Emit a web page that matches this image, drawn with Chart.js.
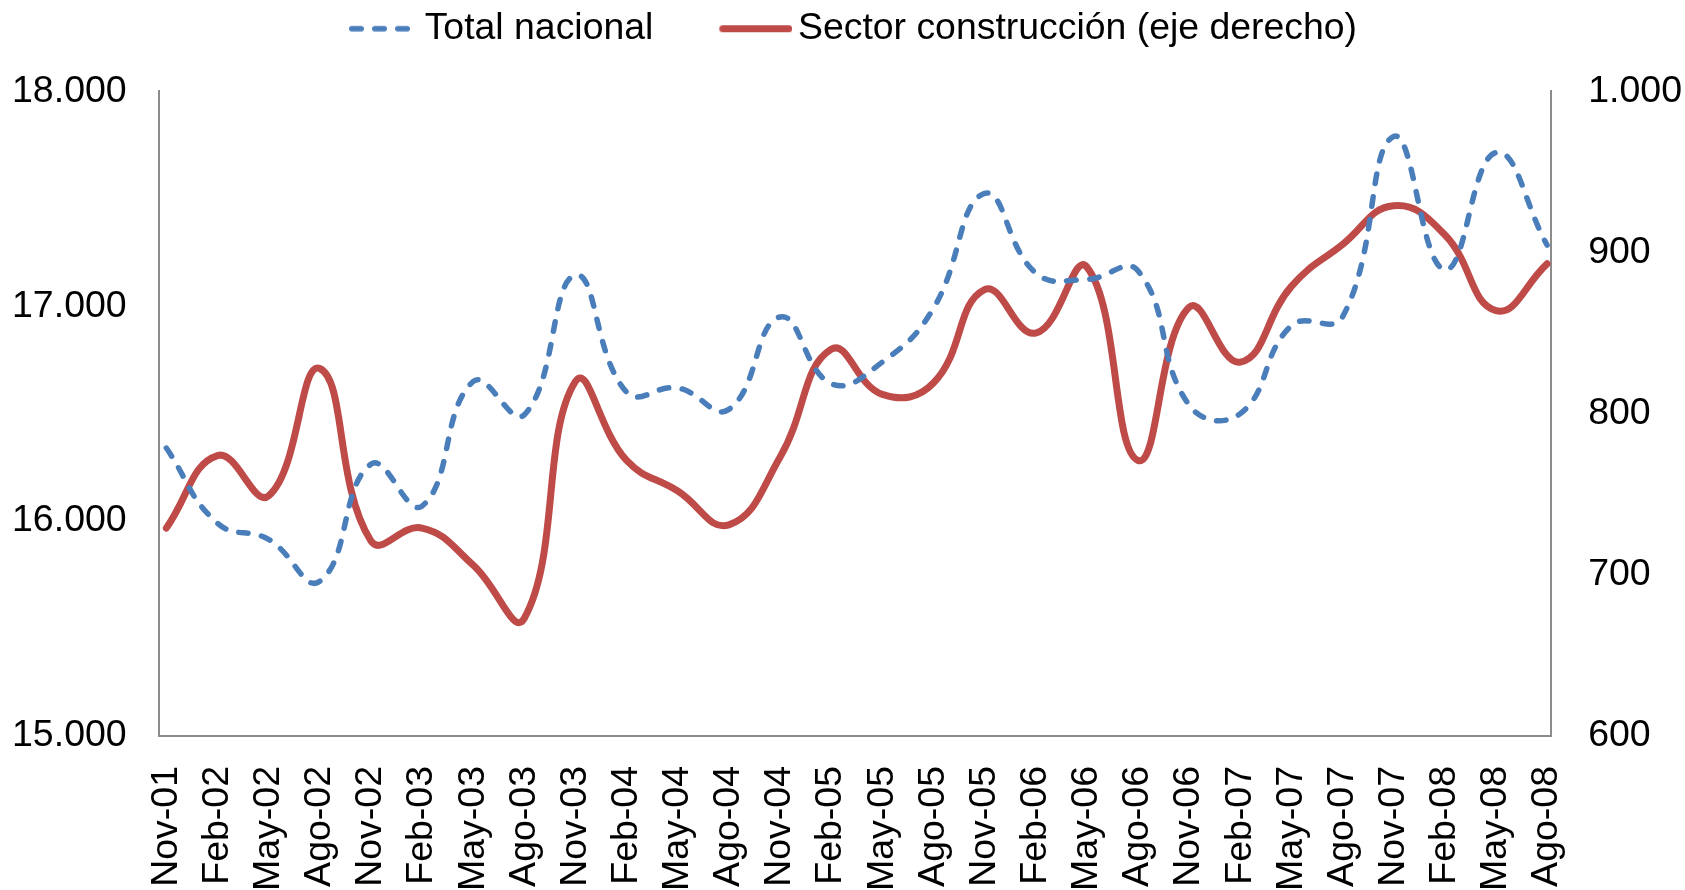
<!DOCTYPE html>
<html>
<head>
<meta charset="utf-8">
<script src="https://cdn.jsdelivr.net/npm/chart.js@4/dist/chart.umd.min.js"></script>
<style>
  html, body { margin: 0; padding: 0; background: #fff; }
  canvas { display: block; }
</style>
</head>
<body>
<canvas id="myChart" width="1685" height="890"></canvas>
<script>
// quarterly labels
const labels = ['Nov-01', 'Feb-02', 'May-02', 'Ago-02', 'Nov-02', 'Feb-03', 'May-03', 'Ago-03',
  'Nov-03', 'Feb-04', 'May-04', 'Ago-04', 'Nov-04', 'Feb-05', 'May-05', 'Ago-05',
  'Nov-05', 'Feb-06', 'May-06', 'Ago-06', 'Nov-06', 'Feb-07', 'May-07', 'Ago-07',
  'Nov-07', 'Feb-08', 'May-08', 'Ago-08']

// left axis
const totalNacional = [16340, 15990, 15915, 15720, 16265, 16070, 16650, 16495,
  17145, 16600, 16620, 16520, 16950, 16640, 16740, 16990,
  17525, 17155, 17125, 17165, 16540, 16500, 16910, 16950,
  17790, 17170, 17715, 17285]

// right axis
const sectorConstruccion = [729, 774, 749, 828, 721, 729, 706, 673,
  820, 771, 752, 731, 773, 840, 812, 819,
  877, 850, 891, 771, 866, 832, 879, 905,
  929, 911, 864, 893]

const leftTicks = [15000, 16000, 17000, 18000]
const rightTicks = [600, 700, 800, 900, 1000]

const blue = '#4a7ebb'
const red = '#be4b48'
const blueDash = [9.5, 13.5]
const axisColor = '#8c8c8c'

const fmt = v => String(v).replace(/\B(?=(\d{3})+(?!\d))/g, '.')
const toPoints = arr => arr.map((y, i) => ({ x: i, y }))

// small canvas used as legend symbol (line from `from` to `to`, relative to the symbol centre)
const legendLine = (color, lineWidth, from, to, dash) => {
  const half = Math.max(Math.abs(from), Math.abs(to))
  const c = document.createElement('canvas')
  c.width = Math.ceil(half * 2)
  c.height = Math.ceil(lineWidth) + 4
  const g = c.getContext('2d')
  g.strokeStyle = color
  g.lineWidth = lineWidth
  g.lineCap = 'round'
  g.setLineDash(dash)
  g.beginPath()
  g.moveTo(half + from + lineWidth / 2, c.height / 2)
  g.lineTo(half + to - lineWidth / 2, c.height / 2)
  g.stroke()
  return c
}

Chart.defaults.font.family = '"Liberation Sans", Arial, sans-serif'
Chart.defaults.color = '#000'

// leave some room between the legend and the plot
const legendSpacing = {
  id: 'legendSpacing',
  beforeLayout (chart) {
    const legend = chart.legend
    if (legend && !legend._spaced) {
      const fit = legend.fit
      legend.fit = function () {
        fit.call(this)
        this.height += 34
      }
      legend._spaced = true
    }
  }
}

const ctx = document.getElementById('myChart')

new Chart(ctx, {
  type: 'line',
  data: {
    datasets: [
      {
        label: 'Total nacional',
        data: toPoints(totalNacional),
        yAxisID: 'y',
        borderColor: blue,
        borderWidth: 5.5,
        borderDash: blueDash,
        borderCapStyle: 'round',
        tension: 0.45,
        pointRadius: 0,
        fill: false
      },
      {
        label: 'Sector construcción (eje derecho)',
        data: toPoints(sectorConstruccion),
        yAxisID: 'y1',
        borderColor: red,
        borderWidth: 7,
        borderCapStyle: 'round',
        tension: 0.45,
        pointRadius: 0,
        fill: false
      }
    ]
  },
  plugins: [legendSpacing],
  options: {
    responsive: false,
    animation: false,
    layout: { padding: { top: 0, left: -20, right: -34, bottom: -31 } },
    plugins: {
      tooltip: { enabled: false },
      legend: {
        position: 'top',
        labels: {
          usePointStyle: true,
          pointStyleWidth: 64,
          padding: 10,
          font: { size: 37.4 },
          generateLabels: chart => {
            const items = Chart.defaults.plugins.legend.labels.generateLabels(chart)
            items[0].pointStyle = legendLine(blue, 5.5, -25, 37, blueDash)
            items[1].pointStyle = legendLine(red, 7, -28, 45, [])
            // extra room after the first entry, like the original legend
            items[0].text = items[0].text + '\u00a0'.repeat(5)
            return items
          }
        }
      }
    },
    scales: {
      x: {
        type: 'linear',
        min: -0.15,
        max: 27.08,
        grid: { display: false, drawTicks: false },
        border: { display: true, color: axisColor, width: 2 },
        ticks: {
          stepSize: 1,
          autoSkip: false,
          includeBounds: false,
          minRotation: 90,
          maxRotation: 90,
          padding: 30,
          font: { size: 37.5 },
          callback: v => labels[v] ?? ''
        }
      },
      y: {
        position: 'left',
        min: leftTicks[0],
        max: leftTicks[leftTicks.length - 1],
        grid: { display: false, drawTicks: false },
        border: { display: true, color: axisColor, width: 2 },
        afterBuildTicks: axis => { axis.ticks = leftTicks.map(value => ({ value })) },
        ticks: {
          padding: 32,
          font: { size: 37.5 },
          callback: v => fmt(v)
        }
      },
      y1: {
        position: 'right',
        min: rightTicks[0],
        max: rightTicks[rightTicks.length - 1],
        grid: { display: false, drawTicks: false },
        border: { display: true, color: axisColor, width: 2 },
        afterBuildTicks: axis => { axis.ticks = rightTicks.map(value => ({ value })) },
        ticks: {
          padding: 37,
          font: { size: 37.5 },
          callback: v => fmt(v)
        }
      }
    }
  }
})
</script>
</body>
</html>
